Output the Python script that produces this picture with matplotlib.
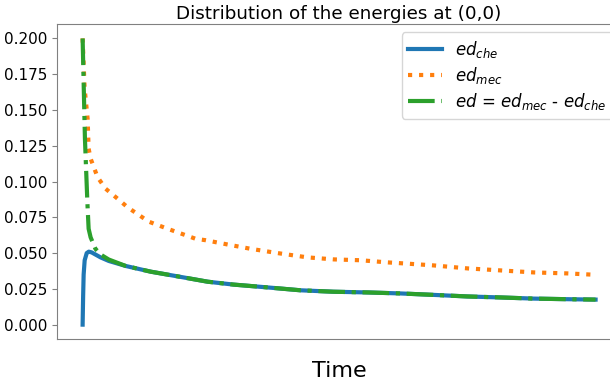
import matplotlib
matplotlib.use("Agg")
import matplotlib.pyplot as plt

# time samples (arbitrary units, no ticks shown in the chart)
t_che = [0, 0.1, 0.2, 0.4, 0.8, 1.2, 1.75, 2.5, 3.5, 5.1, 8.4, 13.3, 18.1, 24.4,
         29.4, 36.1, 42.5, 48.9, 55.6, 62.0, 68.4, 75.0, 81.5, 87.9, 94.2, 100]
ed_che = [0.0, 0.02, 0.035, 0.045, 0.050, 0.051, 0.0505, 0.049, 0.047, 0.0445,
          0.041, 0.037, 0.034, 0.030, 0.028, 0.026, 0.024, 0.023, 0.0225, 0.0218,
          0.0208, 0.0197, 0.019, 0.0182, 0.0178, 0.0175]

t_mec = [0, 0.39, 0.97, 1.17, 1.56, 2.92, 4.48, 6.82, 8.77, 12.87, 16.57, 22.03,
         23.98, 28.27, 32.75, 38.01, 43.86, 48.93, 54.19, 59.45, 62.57, 68.42,
         75.05, 81.48, 87.91, 94.54, 99.03, 100]
ed_mec = [0.2, 0.165, 0.144, 0.123, 0.116, 0.103, 0.095, 0.088, 0.082, 0.072,
          0.067, 0.060, 0.059, 0.056, 0.053, 0.050, 0.047, 0.0456, 0.045, 0.0435,
          0.0428, 0.0414, 0.0393, 0.0379, 0.0365, 0.0358, 0.035, 0.0348]

t_ed = [0, 0.45, 0.92, 1.17, 1.56, 2.5, 3.5, 5.1, 8.4, 13.3, 18.1, 24.4, 29.4,
        36.1, 42.5, 48.9, 55.6, 62.0, 68.4, 75.0, 81.5, 87.9, 94.2, 100]
ed = [0.2, 0.13, 0.086, 0.067, 0.061, 0.053, 0.049, 0.0455, 0.041, 0.037, 0.034,
      0.030, 0.028, 0.026, 0.024, 0.023, 0.0225, 0.0218, 0.0208, 0.0197, 0.019,
      0.0182, 0.0178, 0.0175]

fig = plt.figure(figsize=(6.1, 3.83), dpi=100)
# axes runs past the right edge, as in the cropped original
ax = fig.add_axes([0.0934, 0.115, 0.925, 0.822])

ax.plot(t_che, ed_che, color="tab:blue", lw=3, label=r"$ed_{che}$")
ax.plot(t_mec, ed_mec, color="tab:orange", lw=3, ls=":", label=r"$ed_{mec}$")
ax.plot(t_ed, ed, color="tab:green", lw=3, ls="-.",
        label=r"$ed$ = $ed_{mec}$ - $ed_{che}$")

ax.set_xticks([])
ax.set_title("Distribution of the energies at (0,0)", fontsize=13.2, pad=4)
ax.set_xlabel("Time", fontsize=16, labelpad=16)
ax.tick_params(axis="y", labelsize=11, color="gray")
for s in ax.spines.values():
    s.set_color("gray")

ax.legend(loc="upper right", fontsize=12, labelspacing=0.3, handlelength=2.0)

fig.savefig("out.png", dpi=100)
